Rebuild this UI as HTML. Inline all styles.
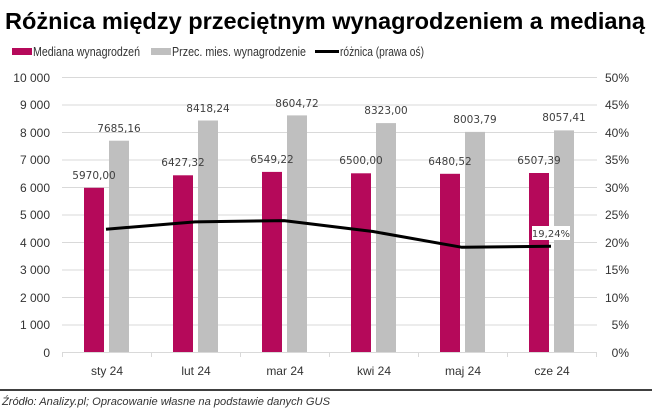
<!DOCTYPE html>
<html><head><meta charset="utf-8"><style>
html,body{margin:0;padding:0;background:#fff;width:652px;height:411px;overflow:hidden}
svg{display:block}
</style></head><body>
<svg width="652" height="411" viewBox="0 0 652 411" xmlns="http://www.w3.org/2000/svg">
<text x="5" y="29" font-family="Liberation Sans, sans-serif" font-weight="bold" font-size="23" fill="#000" textLength="640" lengthAdjust="spacingAndGlyphs">Różnica między przeciętnym wynagrodzeniem a medianą</text>
<g font-family="Liberation Sans, sans-serif" font-size="12.5" fill="#333">
<rect x="12" y="48" width="20" height="7" fill="#B5095A"/><text x="33" y="56" textLength="107" lengthAdjust="spacingAndGlyphs">Mediana wynagrodzeń</text>
<rect x="151" y="48" width="20" height="7" fill="#BFBFBF"/><text x="172" y="56" textLength="134" lengthAdjust="spacingAndGlyphs">Przec. mies. wynagrodzenie</text>
<rect x="315" y="50" width="24" height="3" fill="#000"/><text x="340" y="56" textLength="84" lengthAdjust="spacingAndGlyphs">różnica (prawa oś)</text>
</g>
<g stroke="#D9D9D9" stroke-width="1">
<line x1="62" y1="77.5" x2="597" y2="77.5"/><line x1="62" y1="105" x2="597" y2="105"/><line x1="62" y1="132.5" x2="597" y2="132.5"/><line x1="62" y1="160" x2="597" y2="160"/><line x1="62" y1="187.5" x2="597" y2="187.5"/><line x1="62" y1="215" x2="597" y2="215"/><line x1="62" y1="242.5" x2="597" y2="242.5"/><line x1="62" y1="270" x2="597" y2="270"/><line x1="62" y1="297.5" x2="597" y2="297.5"/><line x1="62" y1="325" x2="597" y2="325"/><line x1="62" y1="352.5" x2="597" y2="352.5"/>
<line x1="62.5" y1="352" x2="62.5" y2="357"/><line x1="151.5" y1="352" x2="151.5" y2="357"/><line x1="240.5" y1="352" x2="240.5" y2="357"/><line x1="329.5" y1="352" x2="329.5" y2="357"/><line x1="418.5" y1="352" x2="418.5" y2="357"/><line x1="507.5" y1="352" x2="507.5" y2="357"/><line x1="596.5" y1="352" x2="596.5" y2="357"/>
</g>
<g font-family="Liberation Sans, sans-serif" font-size="12" fill="#333" text-anchor="end">
<text x="50" y="82">10 000</text><text x="50" y="109">9 000</text><text x="50" y="137">8 000</text><text x="50" y="164">7 000</text><text x="50" y="192">6 000</text><text x="50" y="219">5 000</text><text x="50" y="247">4 000</text><text x="50" y="274">3 000</text><text x="50" y="302">2 000</text><text x="50" y="329">1 000</text><text x="50" y="357">0</text>
</g>
<g font-family="Liberation Sans, sans-serif" font-size="12" fill="#333" text-anchor="end">
<text x="629" y="82">50%</text><text x="629" y="109">45%</text><text x="629" y="137">40%</text><text x="629" y="164">35%</text><text x="629" y="192">30%</text><text x="629" y="219">25%</text><text x="629" y="247">20%</text><text x="629" y="274">15%</text><text x="629" y="302">10%</text><text x="629" y="329">5%</text><text x="629" y="357">0%</text>
</g>
<g fill="#B5095A">
<rect x="84" y="187.8" width="20" height="164.2"/><rect x="173" y="175.3" width="20" height="176.7"/><rect x="262" y="171.9" width="20" height="180.1"/><rect x="351" y="173.3" width="20" height="178.7"/><rect x="440" y="173.8" width="20" height="178.2"/><rect x="529" y="173.0" width="20" height="179"/>
</g>
<g fill="#BFBFBF">
<rect x="109" y="140.7" width="20" height="211.3"/><rect x="198" y="120.5" width="20" height="231.5"/><rect x="287" y="115.4" width="20" height="236.6"/><rect x="376" y="123.1" width="20" height="228.9"/><rect x="465" y="131.9" width="20" height="220.1"/><rect x="554" y="130.4" width="20" height="221.6"/>
</g>
<g font-family="DejaVu Sans, sans-serif" font-size="10.5" fill="#404040" text-anchor="middle">
<text x="94" y="179">5970,00</text><text x="183" y="166">6427,32</text><text x="272" y="163">6549,22</text><text x="361" y="164">6500,00</text><text x="450" y="165">6480,52</text><text x="539" y="164">6507,39</text>
<text x="119" y="132">7685,16</text><text x="208" y="112">8418,24</text><text x="297" y="107">8604,72</text><text x="386" y="114">8323,00</text><text x="475" y="123">8003,79</text><text x="564" y="121">8057,41</text>
</g>
<polyline points="106,229.2 195,221.9 284,220.6 373,231.5 462,247.3 551,246.2" fill="none" stroke="#000" stroke-width="3" stroke-linejoin="round"/>
<rect x="532" y="226" width="38" height="14" fill="#fff"/>
<text x="551" y="237" font-family="DejaVu Sans, sans-serif" font-size="10" fill="#404040" text-anchor="middle">19,24%</text>
<g font-family="Liberation Sans, sans-serif" font-size="12" fill="#333" text-anchor="middle">
<text x="107" y="375">sty 24</text><text x="196" y="375">lut 24</text><text x="285" y="375">mar 24</text><text x="374" y="375">kwi 24</text><text x="463" y="375">maj 24</text><text x="552" y="375">cze 24</text>
</g>
<line x1="0" y1="390" x2="652" y2="390" stroke="#000" stroke-width="1.5"/>
<text x="2" y="405" font-family="Liberation Sans, sans-serif" font-style="italic" font-size="11" fill="#333" textLength="328" lengthAdjust="spacingAndGlyphs">Źródło: Analizy.pl; Opracowanie własne na podstawie danych GUS</text>
</svg>
</body></html>
